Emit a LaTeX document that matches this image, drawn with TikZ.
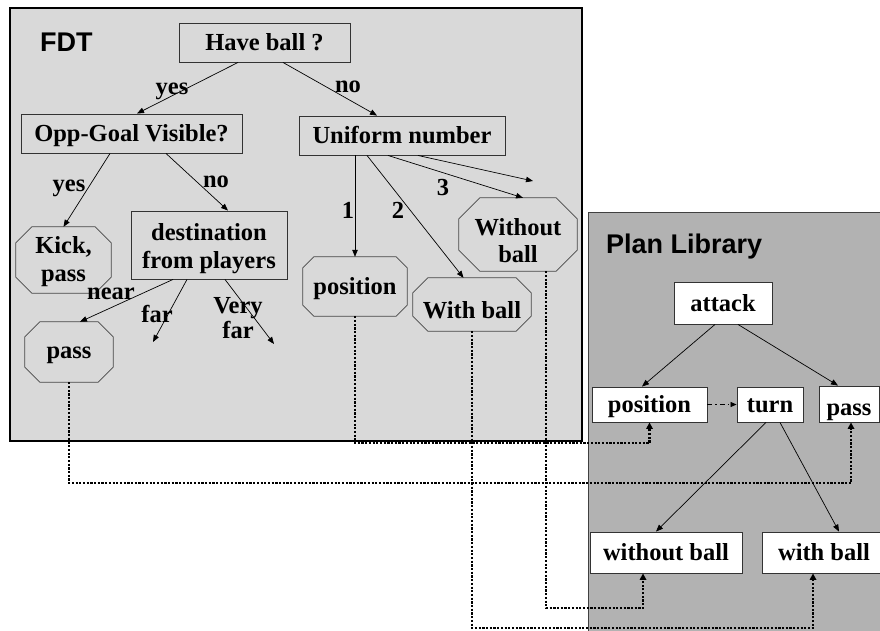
\documentclass[tikz,border=0pt]{standalone}
\usepackage{fontspec}
\setmainfont{Liberation Serif}
\newfontfamily\headfont{Liberation Sans}
\usetikzlibrary{arrows.meta}
\definecolor{fdtgray}{HTML}{D9D9D9}
\definecolor{libgray}{HTML}{B2B2B2}
% octagon outline around a (borderless) node: #1 = node name, #2 = corner cut in pt
\newcommand\octoutline[2]{%
  \draw[octline] ([xshift=#2pt]#1.north west) -- ([xshift=-#2pt]#1.north east)
    -- ([yshift=-#2pt]#1.north east) -- ([yshift=#2pt]#1.south east)
    -- ([xshift=-#2pt]#1.south east) -- ([xshift=#2pt]#1.south west)
    -- ([yshift=#2pt]#1.south west) -- ([yshift=-#2pt]#1.north west) -- cycle;}
\begin{document}
\begin{tikzpicture}[x=1pt,y=-1pt,
  every node/.style={font=\fontsize{24.5}{28}\selectfont\bfseries, inner sep=0pt},
  title/.style={font=\headfont\fontsize{27}{32}\selectfont\bfseries},
  rbox/.style={draw=black!80, line width=0.9pt, text height=20pt, text depth=4pt},
  wbox/.style={rbox, fill=white},
  oct/.style={text height=20pt, text depth=4pt},
  octline/.style={draw=black!72, line width=0.8pt},
  lbl/.style={anchor=base},
  arr/.style={draw=black, line width=0.7pt, -{Triangle[length=7pt,width=5.5pt]}},
  dotarr/.style={draw=black, line width=2.6pt, dash pattern=on 2.2pt off 1.5pt,
    -{Triangle[length=6.5pt,width=6.5pt]}},
  dasharr/.style={draw=black, line width=0.7pt, dash pattern=on 5pt off 3pt on 1.5pt off 3pt,
    -{Triangle[length=6pt,width=5pt]}}]
\useasboundingbox (0,0) rectangle (880,631);
\clip (0,0) rectangle (880,631);
\fill[white] (0,0) rectangle (880,631);

% panels
\draw[fill=libgray, draw=black!75, line width=1pt] (588,212) rectangle (895,640);
\draw[fill=fdtgray, draw=black, line width=1.2pt] (10,8) rectangle (582,441);
\node[title, anchor=base west] (fdttitle) at (40,52) {FDT};
\node[title, anchor=base west] (libtitle) at (606,253) {Plan Library};

% decision tree
\node[rbox, minimum width=171pt, minimum height=39pt] (have) at (264.5,42.5) {Have ball ?};
\node[rbox, minimum width=221pt, minimum height=39pt] (opp) at (131.5,133.5) {Opp-Goal Visible?};
\node[rbox, minimum width=206pt, minimum height=39pt] (uni) at (402,135.5) {Uniform number};
\node[rbox, minimum width=156pt, minimum height=68pt, align=center, text height=50pt, text depth=4pt] (dest) at (209,245) {destination\\from players};

\node[oct, minimum width=95pt, minimum height=66pt, align=center, text height=47pt, text depth=4pt] (kick) at (63.5,260) {Kick,\\pass};
\node[oct, minimum width=88pt, minimum height=60pt, text height=18pt, text depth=6pt] (fpass) at (69,352) {pass};
\node[oct, minimum width=104pt, minimum height=59pt] (fpos) at (355,286.5) {position};
\node[oct, minimum width=118pt, minimum height=53pt, text height=27pt, text depth=0pt] (fwb) at (472,304.5) {With ball};
\node[oct, minimum width=118pt, minimum height=73pt, align=center, text height=59pt, text depth=4pt] (fwob) at (518,234.5) {Without\\[-1pt]ball};
\octoutline{kick}{16}
\octoutline{fpass}{15}
\octoutline{fpos}{11}
\octoutline{fwb}{15}
\octoutline{fwob}{21}

\coordinate (farend) at (153,342);
\coordinate (veryfarend) at (274,344);
\coordinate (threeend) at (533,181);

\draw[arr] ([xshift=-26.5pt]have.south) -- ([xshift=5.5pt]opp.north);
\draw[arr] ([xshift=18.5pt]have.south) -- ([xshift=-25pt]uni.north);
\draw[arr] ([xshift=-21.5pt]opp.south) -- (kick.north);
\draw[arr] ([xshift=34.5pt]opp.south) -- ([xshift=19pt]dest.north);
\draw[arr] ([xshift=-47pt]uni.south) -- (fpos.north);
\draw[arr] ([xshift=-35pt]uni.south) -- ([xshift=-8.5pt]fwb.north);
\draw[arr] ([xshift=-14pt]uni.south) -- ([xshift=5pt]fwob.north);
\draw[arr] ([xshift=16pt]uni.south) -- (threeend);
\draw[arr] ([xshift=-36pt]dest.south) -- ([xshift=11pt]fpass.north);
\draw[arr] ([xshift=-22pt]dest.south) -- (farend);
\draw[arr] ([xshift=16pt]dest.south) -- (veryfarend);

\node[lbl] (yes1) at (172,95) {yes};
\node[lbl] (no1) at (348,93) {no};
\node[lbl] (yes2) at (69,192) {yes};
\node[lbl] (no2) at (216,188) {no};
\node[lbl] (one) at (348,218) {1};
\node[lbl] (two) at (398,218) {2};
\node[lbl] (three) at (443,196) {3};
\node[lbl] (near) at (111,299) {near};
\node[lbl] (far) at (157,322) {far};
\node[lbl, align=center] (veryfar) at (238,338) {Very\\[-3pt]far};

% plan library
\node[wbox, minimum width=98pt, minimum height=42pt] (attack) at (723,303) {attack};
\node[wbox, minimum width=115pt, minimum height=35pt] (ppos) at (649.5,404.5) {position};
\node[wbox, minimum width=66pt, minimum height=35pt] (turn) at (770,404.5) {turn};
\node[wbox, minimum width=60pt, minimum height=36pt, text height=22pt, text depth=0pt] (ppass) at (849,404) {pass};
\node[wbox, minimum width=152pt, minimum height=41pt] (pwob) at (666,552.5) {without ball};
\node[wbox, minimum width=124pt, minimum height=41pt] (pwb) at (824,552.5) {with ball};

\draw[arr] ([xshift=-8pt]attack.south) -- ([xshift=-7.5pt]ppos.north);
\draw[arr] ([xshift=15pt]attack.south) -- ([xshift=-11pt]ppass.north);
\draw[dasharr] (ppos.east) -- (turn.west);
\draw[arr] ([xshift=-4pt]turn.south) -- ([xshift=-10pt]pwob.north);
\draw[arr] ([xshift=10pt]turn.south) -- ([xshift=15pt]pwb.north);

% links from tree leaves to plan steps
\coordinate (r1) at (0,483);
\coordinate (r2) at (0,443);
\coordinate (r3) at (0,628);
\coordinate (r4) at (0,608);
\coordinate (ppassin) at ([xshift=2pt]ppass.south);
\coordinate (pwbin) at ([xshift=-11pt]pwb.south);
\coordinate (fwobout) at ([xshift=28pt]fwob.south);
\coordinate (pwobin) at ([xshift=-23pt]pwob.south);
\draw[dotarr] (fpass.south) |- (ppassin |- r1) -- (ppassin);
\draw[dotarr] (fpos.south) |- (ppos.south |- r2) -- (ppos.south);
\draw[dotarr] (fwb.south) |- (pwbin |- r3) -- (pwbin);
\draw[dotarr] (fwobout) |- (pwobin |- r4) -- (pwobin);
\end{tikzpicture}
\end{document}
